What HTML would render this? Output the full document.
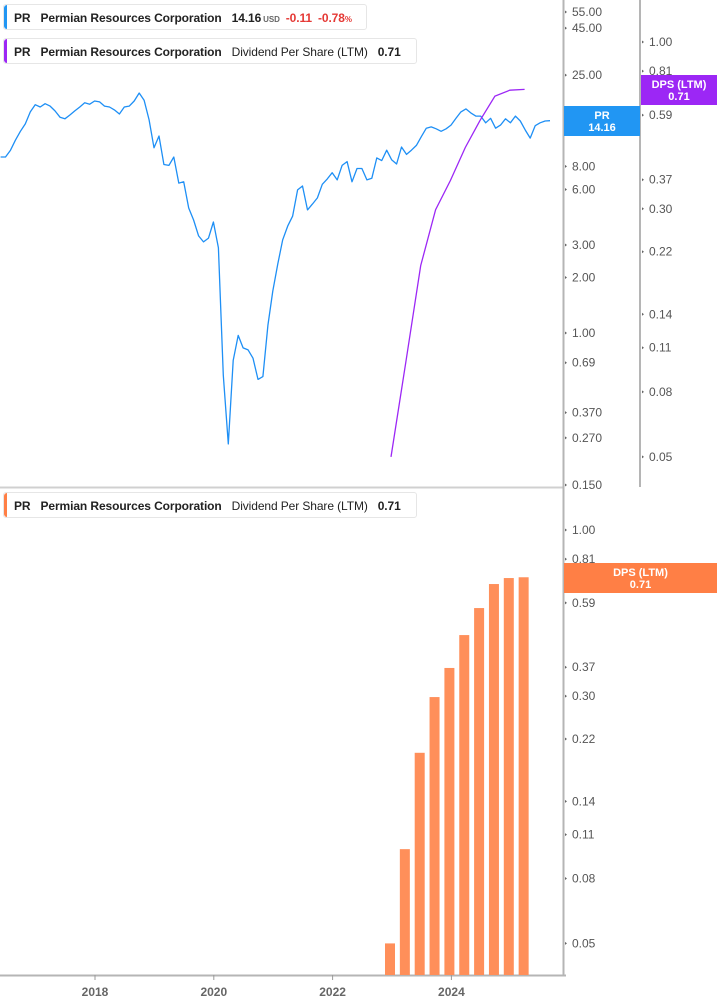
<!DOCTYPE html>
<html><head><meta charset="utf-8"><style>
body{margin:0;width:717px;height:1005px;background:#fff;overflow:hidden;font-family:"Liberation Sans",sans-serif}
svg{position:absolute;left:0;top:0}
.leg{position:absolute;left:3px;height:26px;border:1px solid #e6e6e6;border-radius:3px;background:#fff;font-size:12px;line-height:26px;color:#222;white-space:nowrap;padding-left:10px;padding-right:10px;box-sizing:border-box;letter-spacing:-0.1px}
.leg .bar{position:absolute;left:0;top:0;bottom:0;width:3px;border-radius:3px 0 0 3px}
.leg b{font-weight:bold;margin-right:10px}
</style></head><body>
<svg id="chart" width="717" height="1005"></svg>
<div class="leg" style="top:4px;width:364px"><span class="bar" style="background:#2196f3"></span><b>PR</b><b>Permian Resources Corporation</b><b style="margin-right:2px">14.16</b><span style="font-size:8px;font-weight:bold;color:#666;margin-right:6px">USD</span><b style="color:#e53935;margin-right:6px">-0.11</b><b style="color:#e53935">-0.78<span style="font-size:8px">%</span></b></div>
<div class="leg" style="top:38px;width:414px"><span class="bar" style="background:#9c27f5"></span><b>PR</b><b>Permian Resources Corporation</b><span style="margin-right:10px">Dividend Per Share (LTM)</span><b>0.71</b></div>
<div class="leg" style="top:492px;width:414px"><span class="bar" style="background:#ff7f45"></span><b>PR</b><b>Permian Resources Corporation</b><span style="margin-right:10px">Dividend Per Share (LTM)</span><b>0.71</b></div>
<script>
const priceStart = 2016.41;
const prices = [9.0,9.0,9.8,11.1,12.4,13.6,15.8,17.3,16.8,17.5,17.0,16.0,14.8,14.5,15.2,16.0,16.8,17.7,17.4,18.1,17.9,17.0,16.8,16.2,15.4,16.8,17.0,18.1,20.0,18.3,14.3,10.1,11.7,8.2,8.1,9.0,6.5,6.6,4.76,4.1,3.36,3.12,3.27,4.0,2.9,0.59,0.25,0.71,0.97,0.83,0.81,0.73,0.56,0.58,1.1,1.69,2.37,3.2,3.8,4.3,5.97,6.27,4.65,5.0,5.4,6.4,6.85,7.4,6.76,8.1,8.5,6.6,7.8,7.8,6.76,6.9,8.9,8.6,9.8,8.7,8.25,10.2,9.3,9.8,10.4,11.6,12.9,13.1,12.8,12.4,12.8,13.4,14.6,15.8,16.4,15.6,15.0,15.0,13.8,14.6,12.9,13.4,14.5,13.8,15.0,14.1,12.6,11.4,13.3,13.8,14.1,14.16];
const dpsDates = [2023.0,2023.25,2023.5,2023.75,2024.0,2024.25,2024.5,2024.75,2025.0,2025.25];
const dpsValues = [0.05,0.099,0.199,0.298,0.368,0.467,0.568,0.676,0.706,0.71];
const xYears = ["2018","2020","2022","2024"];
const priceTicks = ["55.00","45.00","25.00","15.00","8.00","6.00","3.00","2.00","1.00","0.69","0.370","0.270","0.150"];
const dpsTicks = ["1.00","0.81","0.59","0.37","0.30","0.22","0.14","0.11","0.08","0.05"];

const NS="http://www.w3.org/2000/svg";
const svg=document.getElementById('chart');
function mk(t,a,p){const e=document.createElementNS(NS,t);for(const k in a)e.setAttribute(k,a[k]);(p||svg).appendChild(e);return e;}
const xS=y=>95+(y-2018)*59.4;
const yP=v=>333-80.1*Math.log(v);
const yDT=v=>42-138.5*Math.log(v);
const yDB=v=>530-138*Math.log(v);

let l=mk('line',{x1:0,y1:487.5,x2:563,y2:487.5,stroke:'#d0d0d0','stroke-width':2});

l=mk('line',{x1:563.5,y1:0,x2:563.5,y2:976,stroke:'#b5b5b5','stroke-width':2});

l=mk('line',{x1:640,y1:0,x2:640,y2:487,stroke:'#b5b5b5','stroke-width':2});

l=mk('line',{x1:0,y1:975.5,x2:566,y2:975.5,stroke:'#b5b5b5','stroke-width':2});


function tick(x,y,txt,name){
  const t=mk('text',{x:x+8,y:y+4,'font-size':12,fill:'#555'});t.textContent=txt;
  
  mk('path',{d:`M${x+1} ${y-1.5}L${x+3} ${y}L${x+1} ${y+1.5}Z`,fill:'#666'});
}
priceTicks.forEach(s=>tick(564,yP(parseFloat(s)),s,'price-tick-label'));
dpsTicks.forEach(s=>tick(641,yDT(parseFloat(s)),s,'dps-tick-label-top'));
dpsTicks.forEach(s=>tick(564,yDB(parseFloat(s)),s,'dps-tick-label-bottom'));
xYears.forEach(s=>{
  const x=xS(parseFloat(s));
  mk('line',{x1:x,y1:975,x2:x,y2:980,stroke:'#999'});
  const t=mk('text',{x:x,y:996,'font-size':12,'font-weight':'bold',fill:'#666','text-anchor':'middle'});t.textContent=s;
  
});

let d='';prices.forEach((v,i)=>{d+=(i?'L':'M')+xS(priceStart+i/12).toFixed(1)+' '+yP(v).toFixed(1);});
l=mk('path',{d:d,fill:'none',stroke:'#1e8ff5','stroke-width':1.3,'stroke-linejoin':'round'});


d='';dpsDates.forEach((t,i)=>{d+=(i?'L':'M')+(xS(t)-1).toFixed(1)+' '+yDT(dpsValues[i]).toFixed(1);});
l=mk('path',{d:d,fill:'none',stroke:'#9c27f5','stroke-width':1.3});


dpsDates.forEach((t,i)=>{
  const x=xS(t)-2,y=yDB(dpsValues[i]);
  const r=mk('rect',{x:x-5,y:y,width:10,height:975-y,fill:'#ff8f5a'});
  
});

function badge(x,y,w,h,fill,l1,l2,name){
  const g=mk('g',{});
  mk('rect',{x:x,y:y,width:w,height:h,fill:fill},g);
  let t=mk('text',{x:x+w/2,y:y+h/2-2,'font-size':11,'font-weight':'bold',fill:'#fff','text-anchor':'middle'},g);t.textContent=l1;
  t=mk('text',{x:x+w/2,y:y+h/2+10,'font-size':11,'font-weight':'bold',fill:'#fff','text-anchor':'middle'},g);t.textContent=l2;
}
badge(564,106,76,30,'#2196f3','PR',prices[prices.length-1].toFixed(2),'price-badge');
badge(641,75,76,30,'#9c27f5','DPS (LTM)',dpsValues[dpsValues.length-1].toFixed(2),'dps-badge-top');
badge(564,563,153,30,'#ff7f45','DPS (LTM)',dpsValues[dpsValues.length-1].toFixed(2),'dps-badge-bottom');
</script>
</body></html>
